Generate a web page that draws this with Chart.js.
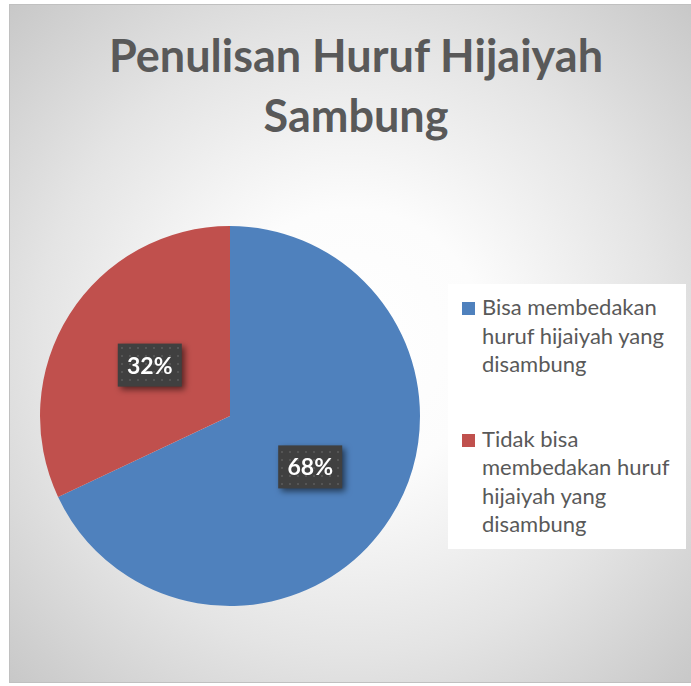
<!DOCTYPE html>
<html>
<head>
<meta charset="utf-8">
<script src="https://cdn.jsdelivr.net/npm/chart.js@4.4.0/dist/chart.umd.min.js"></script>
<style>
  html, body { margin: 0; padding: 0; background: #ffffff; }
  #frame {
    position: absolute; left: 9px; top: 4px; width: 684px; height: 679px;
    border: 1px solid #c0c0c0; box-sizing: border-box;
    background: radial-gradient(ellipse farthest-corner at 50% 50%, #ffffff 0%, #fcfcfc 28%, #e4e4e4 65%, #c8c8c8 100%);
    overflow: hidden;
  }
  #title {
    position: absolute; left: 0; top: 20px; width: 692px; text-align: center;
    font-family: Lato, "Open Sans", sans-serif; font-weight: bold; font-size: 45px;
    line-height: 60px; color: #595959;
  }
  #legend {
    position: absolute; left: 438px; top: 279px; width: 238px; height: 265px;
    background: #ffffff; box-sizing: border-box; padding: 9px 0 0 14px;
    font-family: Lato, "Open Sans", sans-serif; font-size: 22px; line-height: 28.5px; color: #595959;
  }
  .item { position: relative; padding-left: 20px; width: 200px; margin-bottom: 46px; }
  .sw { position: absolute; left: 0; top: 9px; width: 13px; height: 13px; }
  #wrap { position: absolute; left: 20px; top: 211px; width: 400px; height: 400px; }
</style>
</head>
<body>
<div id="frame">
  <div id="title"></div>
  <div id="legend"></div>
  <div id="wrap"><canvas id="c" width="400" height="400"></canvas></div>
</div>
<script>
const chartTitle = ["Penulisan Huruf Hijaiyah", "Sambung"];
const categories = ["Bisa membedakan huruf hijaiyah yang disambung", "Tidak bisa membedakan huruf hijaiyah yang disambung"];
const values = [68, 32];
const percentLabels = ["68%", "32%"];
const colors = ["#4F81BD", "#C0504D"];

document.getElementById('title').innerHTML = chartTitle.join('<br>');
const leg = document.getElementById('legend');
categories.forEach((c, i) => {
  const d = document.createElement('div');
  d.className = 'item';
  d.innerHTML = '<span class="sw" style="background:' + colors[i] + '"></span>' + c;
  leg.appendChild(d);
});

function makePattern(ctx) {
  const p = document.createElement('canvas');
  p.width = 8; p.height = 8;
  const pc = p.getContext('2d');
  pc.fillStyle = '#404040';
  pc.fillRect(0, 0, 8, 8);
  pc.fillStyle = '#555555';
  pc.fillRect(3, 3, 2, 2);
  return ctx.createPattern(p, 'repeat');
}

const labelPlugin = {
  id: 'boxLabels',
  afterDatasetsDraw(chart) {
    const ctx = chart.ctx;
    const meta = chart.getDatasetMeta(0);
    const pat = makePattern(ctx);
    meta.data.forEach((arc, i) => {
      const pos = arc.tooltipPosition();
      const w = 64, h = 43;
      ctx.save();
      ctx.shadowColor = 'rgba(0,0,0,0.55)';
      ctx.shadowBlur = 6;
      ctx.shadowOffsetX = 3;
      ctx.shadowOffsetY = 3;
      ctx.fillStyle = pat;
      ctx.fillRect(pos.x - w / 2, pos.y - h / 2, w, h);
      ctx.restore();
      ctx.save();
      ctx.fillStyle = '#ffffff';
      ctx.font = 'bold 23px Lato, "Open Sans", sans-serif';
      ctx.textAlign = 'center';
      ctx.textBaseline = 'middle';
      ctx.fillText(percentLabels[i], pos.x, pos.y + 1);
      ctx.restore();
    });
  }
};

new Chart(document.getElementById('c'), {
  type: 'pie',
  data: {
    labels: categories,
    datasets: [{
      data: values,
      backgroundColor: colors,
      borderWidth: 0,
      hoverOffset: 0
    }]
  },
  options: {
    responsive: false,
    animation: false,
    layout: { padding: 10 },
    plugins: { legend: { display: false }, tooltip: { enabled: false }, title: { display: false } }
  },
  plugins: [labelPlugin]
});
</script>
</body>
</html>
